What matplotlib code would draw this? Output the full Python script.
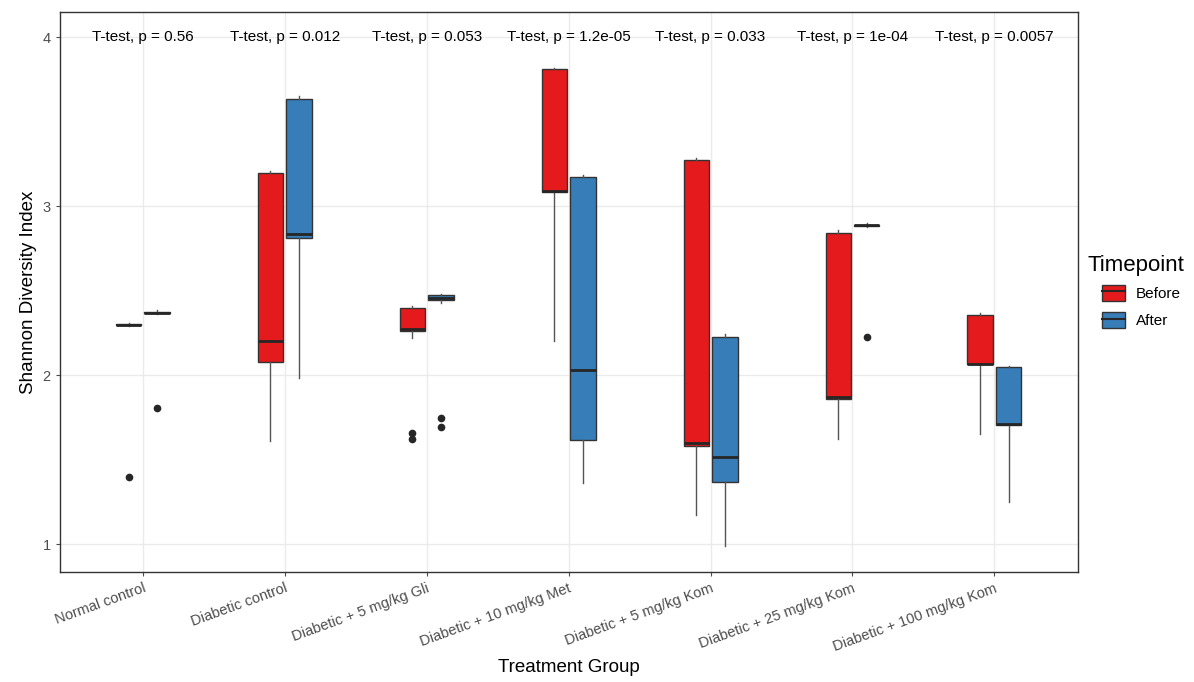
import numpy as np
import matplotlib.pyplot as plt
from matplotlib.patches import Patch
from matplotlib.lines import Line2D

plt.rcParams['font.family'] = ['Liberation Sans', 'DejaVu Sans']

groups = ['Normal control', 'Diabetic control', 'Diabetic + 5 mg/kg Gli',
          'Diabetic + 10 mg/kg Met', 'Diabetic + 5 mg/kg Kom',
          'Diabetic + 25 mg/kg Kom', 'Diabetic + 100 mg/kg Kom']
p_labels = ['0.56', '0.012', '0.053', '1.2e-05', '0.033', '1e-04', '0.0057']

# box statistics: whislo, q1, med, q3, whishi, outliers
before_lo = [2.29, 1.61, 2.22, 2.20, 1.17, 1.62, 1.65]
before_q1 = [2.295, 2.08, 2.26, 3.085, 1.58, 1.862, 2.065]
before_med = [2.298, 2.205, 2.274, 3.091, 1.60, 1.868, 2.069]
before_q3 = [2.301, 3.195, 2.395, 3.811, 3.272, 2.842, 2.355]
before_hi = [2.31, 3.21, 2.41, 3.82, 3.288, 2.862, 2.371]
before_out = [[1.40], [], [1.655, 1.62], [], [], [], []]

after_lo = [2.36, 1.986, 2.43, 1.359, 0.99, 2.88, 1.25]
after_q1 = [2.366, 2.812, 2.444, 1.615, 1.365, 2.885, 1.704]
after_med = [2.371, 2.833, 2.455, 2.03, 1.517, 2.888, 1.714]
after_q3 = [2.376, 3.633, 2.473, 3.173, 2.227, 2.891, 2.049]
after_hi = [2.385, 3.65, 2.483, 3.183, 2.241, 2.90, 2.055]
after_out = [[1.803], [], [1.747, 1.694], [], [], [2.227], []]

c_before = '#E41A1C'
c_after = '#377EB8'


def make_stats(lo, q1, med, q3, hi, out):
    return [dict(whislo=lo[i], q1=q1[i], med=med[i], q3=q3[i], whishi=hi[i],
                 fliers=out[i]) for i in range(len(lo))]


fig = plt.figure(figsize=(11.94, 6.82), dpi=100)
ax = fig.add_axes([0.050, 0.161, 0.853, 0.821])

x = np.arange(1, len(groups) + 1)
for stats, off, col in [(make_stats(before_lo, before_q1, before_med, before_q3, before_hi, before_out), -0.1, c_before),
                        (make_stats(after_lo, after_q1, after_med, after_q3, after_hi, after_out), 0.1, c_after)]:
    ax.bxp(stats, positions=x + off, widths=0.18, patch_artist=True, showcaps=False,
           boxprops=dict(facecolor=col, edgecolor='#333333', linewidth=1.0),
           medianprops=dict(color='#262626', linewidth=2.0),
           whiskerprops=dict(color='#555555', linewidth=1.0),
           flierprops=dict(marker='o', markerfacecolor='#262626', markeredgecolor='#262626',
                           markersize=4.5), zorder=3)

for xi, p in zip(x, p_labels):
    ax.text(xi, 4, 'T-test, p = ' + p, ha='center', va='center', fontsize=11, color='black')

ax.set_xlim(0.415, 7.59)
ax.set_ylim(0.834, 4.148)
ax.set_xticks(x)
ax.set_xticklabels(groups, rotation=20, ha='right', rotation_mode='anchor')
ax.set_yticks([1, 2, 3, 4])
ax.set_yticklabels(['1', '2', '3', '4'])
ax.tick_params(labelsize=10.5, colors='#4D4D4D', length=3, width=0.8)
ax.grid(True, color='#EBEBEB', linewidth=1.0, zorder=0)
ax.set_axisbelow(True)
for s in ax.spines.values():
    s.set_color('#333333')
    s.set_linewidth(1.0)

ax.set_xlabel('Treatment Group', fontsize=13.5)
ax.set_ylabel('Shannon Diversity Index', fontsize=13.5)

# legend: title drawn separately so the keys can be indented like ggplot
fig.text(1088 / 1194, 1 - 265 / 682, 'Timepoint', fontsize=16, ha='left', va='center')
handles = [(Patch(facecolor=c_before, edgecolor='#333333'), Line2D([], [], color='#262626', lw=1.5)),
           (Patch(facecolor=c_after, edgecolor='#333333'), Line2D([], [], color='#262626', lw=1.5))]
leg = fig.legend(handles=handles, labels=['Before', 'After'], loc='upper left',
                 bbox_to_anchor=(1102 / 1194, 1 - 285 / 682), frameon=False, fontsize=11,
                 borderpad=0, borderaxespad=0, handlelength=1.5, handleheight=1.2,
                 handletextpad=0.7, labelspacing=0.75)

fig.savefig('out.png', dpi=100)
